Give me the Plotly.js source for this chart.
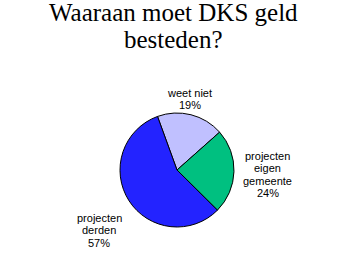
<!DOCTYPE html>
<html>
<head>
<meta charset="utf-8">
<script src="https://cdn.plot.ly/plotly-3.0.1.min.js"></script>
<style>html,body{margin:0;padding:0;background:#fff;}#chart{width:344px;height:278px;}</style>
</head>
<body>
<div id="chart"></div>
<script>
// Survey answers: where should DKS spend its money?
const titleLines = ["Waaraan moet DKS geld", "besteden?"];
const labels = ["weet niet", "projecten eigen gemeente", "projecten derden"];
const labelLines = [["weet niet"], ["projecten", "eigen", "gemeente"], ["projecten", "derden"]];
const values = [19, 24, 57];
const colors = ["#C0C0FF", "#00C080", "#2323FF"];

// Label block anchors (paper coords) for each slice's caption
const labelX = [0.552, 0.779, 0.288];
const labelTopPx = [86, 149, 211];

const W = 344, H = 278;
const lineH = 12.3;
const titleTopPx = -2.5, titleLineH = 27;
const total = values.reduce((a, b) => a + b, 0);

const annotations = [];

// Two-line heading, tight serif leading
titleLines.forEach((t, j) => {
  annotations.push({
    text: t,
    x: 0.505, xref: "paper", xanchor: "center",
    y: 1 - (titleTopPx + j * titleLineH) / H, yref: "paper", yanchor: "top",
    showarrow: false,
    font: {family: "'Times New Roman', 'Liberation Serif', serif", size: 25, color: "#000"},
    borderpad: 0
  });
});

labels.forEach((lab, i) => {
  const pct = Math.round(values[i] / total * 100) + "%";
  const lines = labelLines[i].concat([pct]);
  lines.forEach((t, j) => {
    const yPx = labelTopPx[i] + j * lineH;
    annotations.push({
      text: t,
      x: labelX[i], xref: "paper", xanchor: "center",
      y: 1 - yPx / H, yref: "paper", yanchor: "top",
      showarrow: false,
      font: {family: "Arial, 'Liberation Sans', sans-serif", size: 11, color: "#000"},
      borderpad: 0
    });
  });
});

const trace = {
  type: "pie",
  labels: labels,
  values: values,
  sort: false,
  direction: "clockwise",
  rotation: -20,
  textinfo: "none",
  hoverinfo: "label+percent",
  marker: {colors: colors, line: {color: "#000", width: 1}},
  domain: {x: [120 / W, 234 / W], y: [51 / H, 165 / H]},
  showlegend: false
};

const layout = {
  width: W, height: H,
  margin: {l: 0, r: 0, t: 0, b: 0},
  paper_bgcolor: "#fff",
  plot_bgcolor: "#fff",
  annotations: annotations,
  showlegend: false
};

Plotly.newPlot("chart", [trace], layout, {displayModeBar: false, staticPlot: true});
</script>
</body>
</html>
